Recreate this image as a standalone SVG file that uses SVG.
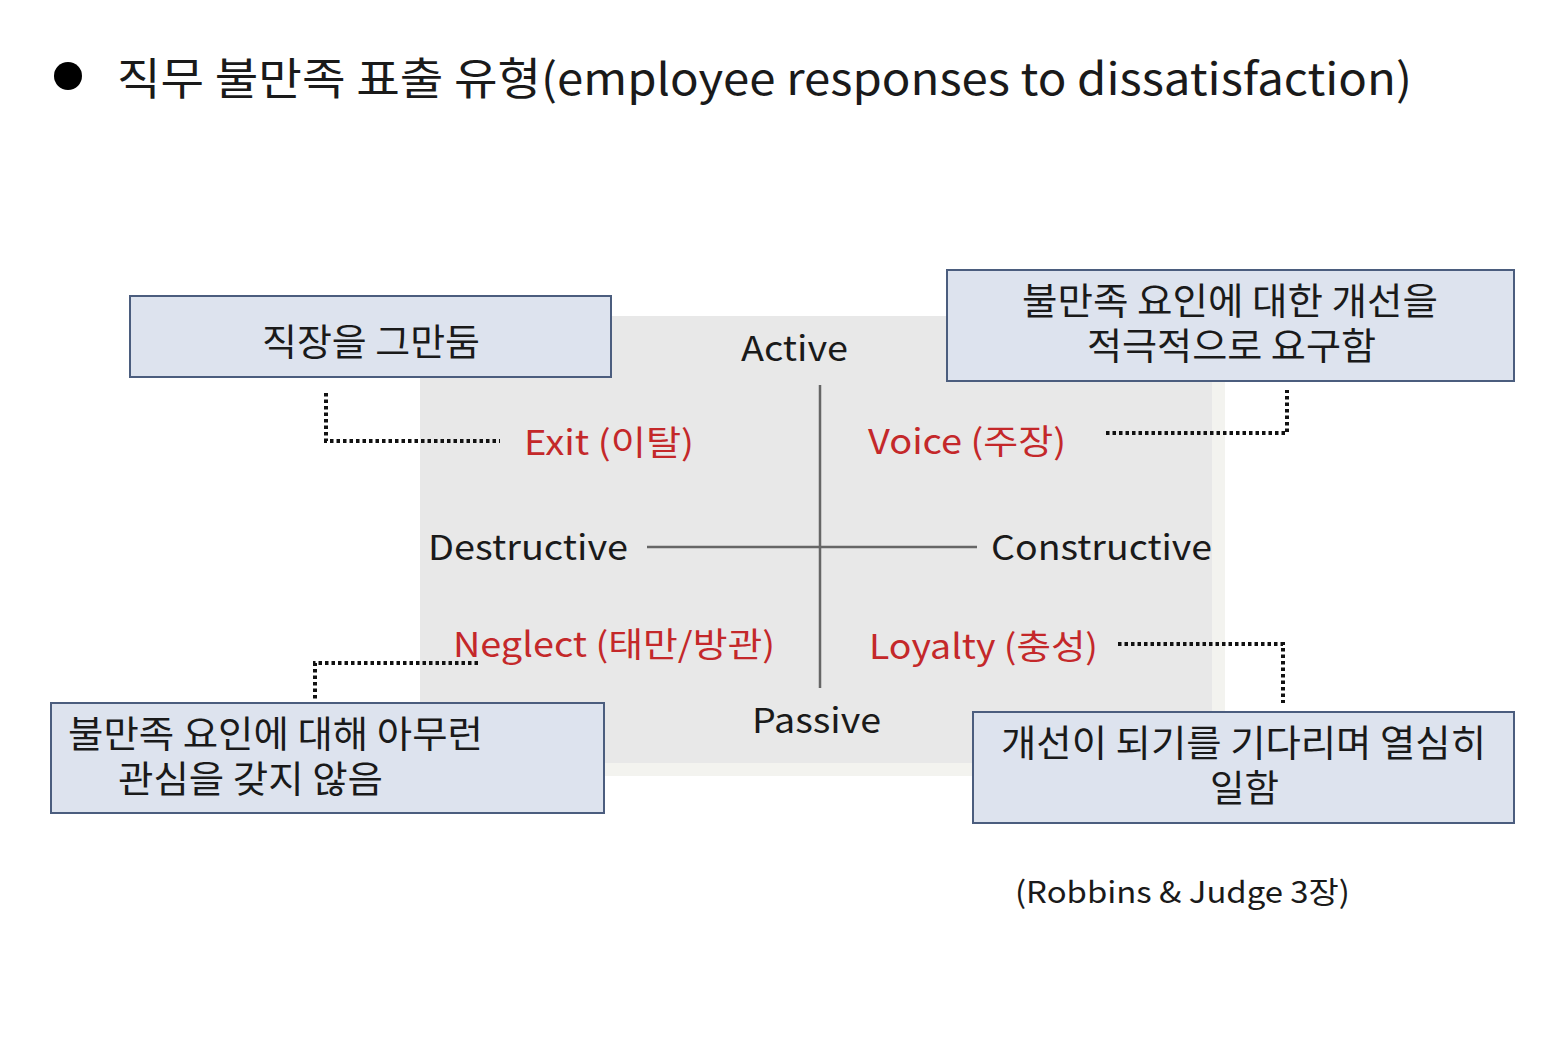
<svg xmlns="http://www.w3.org/2000/svg" width="1552" height="1062" viewBox="0 0 1552 1062">
<style>
text{font-family:"Noto Sans CJK KR","Noto Sans",sans-serif;fill:#1a1a1a}
.red{fill:#c4282a}
.axis{font-size:34px}
.lab{font-size:34px}
.box rect{fill:#dde3ee;stroke:#4b5d7e;stroke-width:2}
.box text{font-size:37px}
.dot{fill:none;stroke:#111;stroke-width:4;stroke-dasharray:3.5 3}
.ax{stroke:#666;stroke-width:2.5}
</style>
<rect width="1552" height="1062" fill="#fff"/>
<g id="title">
<circle cx="68" cy="76" r="14" fill="#000"/>
<text x="117" y="95" font-size="44" textLength="1295" lengthAdjust="spacingAndGlyphs">직무 불만족 표출 유형(employee responses to dissatisfaction)</text>
</g>
<g id="quadrant">
<rect x="420" y="316" width="805" height="460" fill="#f3f3ef"/>
<rect x="420" y="316" width="792" height="447" fill="#e8e8e8"/>
<line class="ax" x1="820" y1="385" x2="820" y2="688"/>
<line class="ax" x1="647" y1="547" x2="977" y2="547"/>
<text class="axis" x="741" y="361" textLength="107" lengthAdjust="spacingAndGlyphs">Active</text>
<text class="axis" x="752" y="733" textLength="129" lengthAdjust="spacingAndGlyphs">Passive</text>
<text class="axis" x="428" y="560" textLength="200" lengthAdjust="spacingAndGlyphs">Destructive</text>
<text class="axis" x="991" y="560" textLength="221" lengthAdjust="spacingAndGlyphs">Constructive</text>
<text class="lab red" x="524" y="455" textLength="170" lengthAdjust="spacingAndGlyphs">Exit (이탈)</text>
<text class="lab red" x="868" y="454" textLength="198" lengthAdjust="spacingAndGlyphs">Voice (주장)</text>
<text class="lab red" x="453" y="657" textLength="322" lengthAdjust="spacingAndGlyphs">Neglect (태만/방관)</text>
<text class="lab red" x="869" y="659" textLength="229" lengthAdjust="spacingAndGlyphs">Loyalty (충성)</text>
</g>
<g id="connectors">
<polyline class="dot" points="326,393 326,441 500,441"/>
<polyline class="dot" points="1106,433 1287,433 1287,390"/>
<polyline class="dot" points="478,663 315,663 315,700"/>
<polyline class="dot" points="1118,644 1283,644 1283,703"/>
</g>
<g id="exit-box" class="box">
<rect x="130" y="296" width="481" height="81"/>
<text x="262" y="356" textLength="218" lengthAdjust="spacingAndGlyphs">직장을 그만둠</text>
</g>
<g id="voice-box" class="box">
<rect x="947" y="270" width="567" height="111"/>
<text x="1022" y="315" textLength="416" lengthAdjust="spacingAndGlyphs">불만족 요인에 대한 개선을</text>
<text x="1087" y="360" textLength="289" lengthAdjust="spacingAndGlyphs">적극적으로 요구함</text>
</g>
<g id="neglect-box" class="box">
<rect x="51" y="703" width="553" height="110"/>
<text x="68" y="748" textLength="415" lengthAdjust="spacingAndGlyphs">불만족 요인에 대해 아무런</text>
<text x="118" y="793" textLength="265" lengthAdjust="spacingAndGlyphs">관심을 갖지 않음</text>
</g>
<g id="loyalty-box" class="box">
<rect x="973" y="712" width="541" height="111"/>
<text x="1001" y="757" textLength="485" lengthAdjust="spacingAndGlyphs">개선이 되기를 기다리며 열심히</text>
<text x="1210" y="802" textLength="69" lengthAdjust="spacingAndGlyphs">일함</text>
</g>
<text x="1015" y="903" font-size="30" textLength="335" lengthAdjust="spacingAndGlyphs">(Robbins &amp; Judge 3장)</text>
</svg>
